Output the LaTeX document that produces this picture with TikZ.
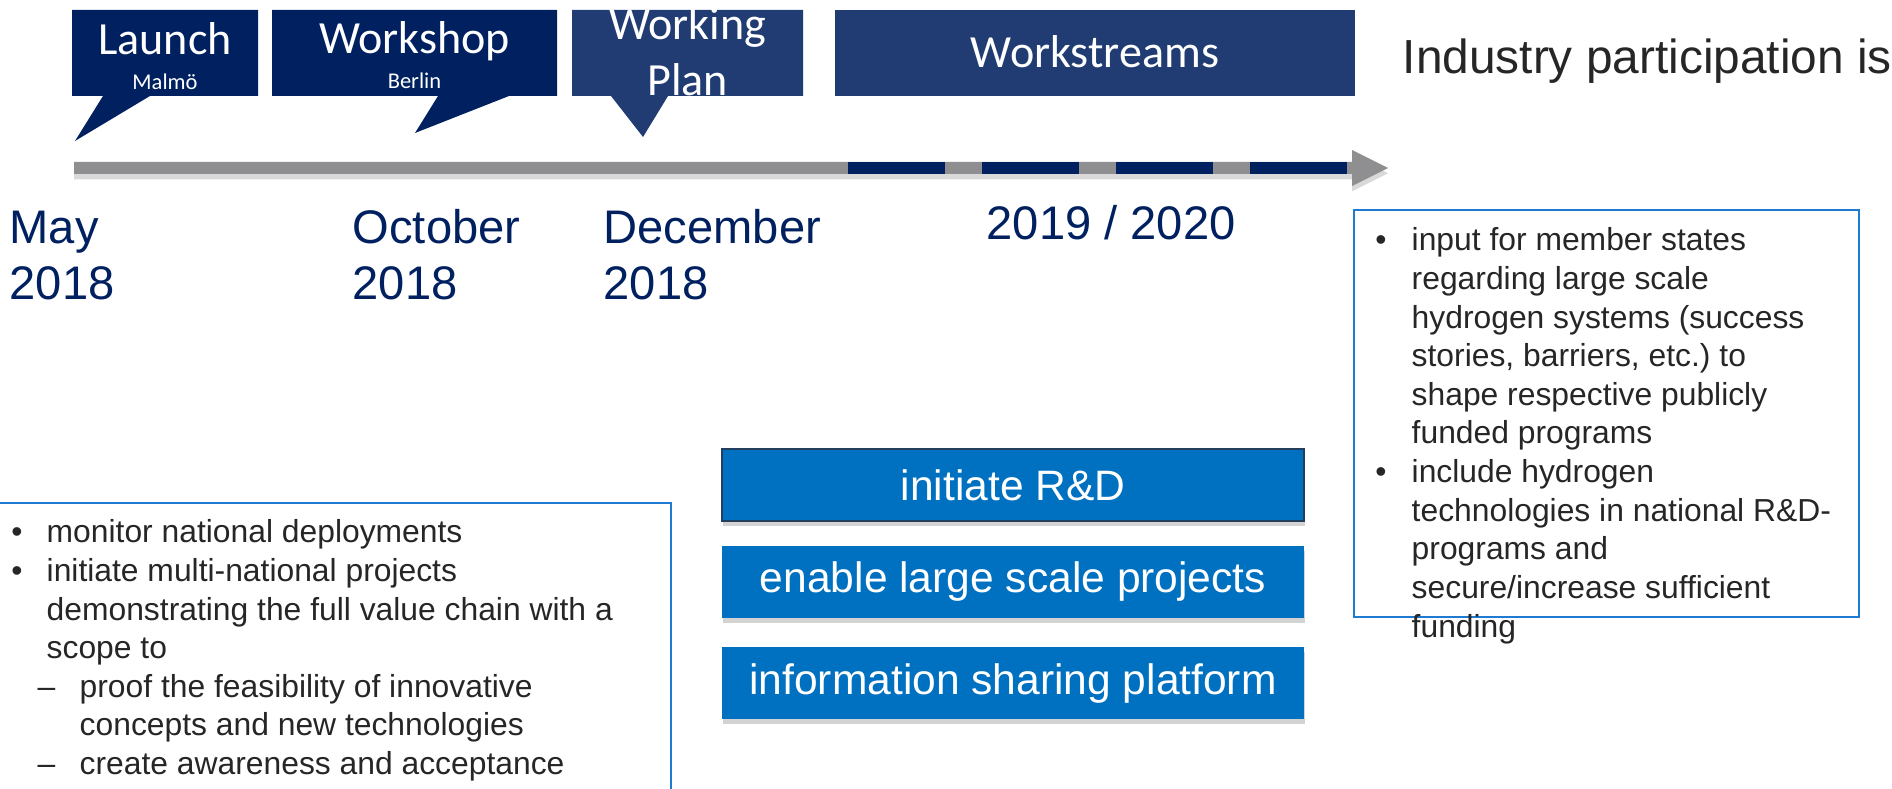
\documentclass[tikz,border=0pt]{standalone}
\usepackage{fontspec}
\setmainfont{Liberation Sans}
\newfontfamily\calloutfont{Carlito}
\usetikzlibrary{positioning}
\usetikzlibrary{shadows}
\definecolor{navyblue}{HTML}{002060}
\definecolor{planblue}{HTML}{213B73}
\definecolor{boxblue}{HTML}{0070C0}
\definecolor{framedark}{HTML}{243F5E}
\definecolor{lineblue}{HTML}{1F7BD0}
\definecolor{timegray}{HTML}{8F8E90}
\definecolor{darktext}{HTML}{262626}
\newcommand{\callout}[6]{\fill[#1] (#2,10) -- (#3,10) -- (#3,96) -- (#5,96) -- (#6) -- (#4,96) -- (#2,96) -- cycle;}
\tikzset{
	bubbletitle/.style={text=white, font=\calloutfont\fontsize{13.1}{15.7}\selectfont, anchor=base, inner sep=0},
	bubbleplace/.style={text=white, font=\calloutfont\fontsize{6.4}{7.7}\selectfont, anchor=base, inner sep=0},
	datelbl/.style={text=navyblue, font=\fontsize{13.4}{16}\selectfont, anchor=base west, inner sep=0},
	goalbox/.style={fill=boxblue, text=white, minimum width=5.82cm, minimum height=0.72cm, inner sep=0,
		font=\fontsize{12.1}{14.5}\selectfont, drop shadow={shadow xshift=0.3pt, shadow yshift=-1.4pt, opacity=.35}},
	listtxt/.style={text=darktext, font=\fontsize{9.05}{10.8}\selectfont\frenchspacing, anchor=base west, inner sep=0},
	listmark/.style={listtxt, anchor=base},
	listframe/.style={draw=lineblue, line width=0.55pt}
}

\begin{document}
\begin{tikzpicture}[x=0.01cm, y=-0.01cm]
		\useasboundingbox (0,0) rectangle (1892,789);

		% timeline
		\fill[timegray, drop shadow={shadow xshift=0pt, shadow yshift=-1.5pt, opacity=.3}]
			(74,162) -- (1352,162) -- (1352,150) -- (1388,168) -- (1352,186) -- (1352,174) -- (74,174) -- cycle;
		\foreach \x in {848,982,1116,1250}
			\fill[navyblue] (\x,162) rectangle ++(97,12);

		% milestones
		\callout{navyblue}{72}{258}{103}{150}{75,141}
		\callout{navyblue}{272}{557}{438}{509}{415,133}
		\callout{planblue}{572}{803}{611}{668}{643,137}
		\fill[planblue] (835,10) rectangle (1355,96);

		\node[bubbletitle] (launch) at (165,55) {Launch};
		\node[bubbleplace] (malmo) at (165,90) {Malmö};
		\node[bubbletitle] (workshop) at (414.5,54) {Workshop};
		\node[bubbleplace] (berlin) at (414.5,89) {Berlin};
		\node[bubbletitle] (working) at (687.5,40) {Working};
		\node[bubbletitle] (plan) at (687.5,96) {Plan};
		\node[bubbletitle] (streams) at (1095,68) {Workstreams};

		\node[anchor=base west, inner sep=0, text=darktext, font=\fontsize{13.6}{16}\selectfont] (industry) at (1402,74) {Industry participation is};

		% dates
		\foreach \mon/\x/\n in {May/9/may, October/352/oct, December/603/dec} {
			\node[datelbl] (\n) at (\x,244) {\mon};
			\node[datelbl] (\n-y) at (\x,300) {2018};
		}
		\node[datelbl] (later) at (986,240) {2019 / 2020};

		% goals
		\node[goalbox, draw=framedark, line width=0.6pt] (rnd) at (1013,485) {initiate R\&D};
		\node[goalbox, below=0.23cm of rnd] (large) {enable large scale projects};
		\node[goalbox, below=0.28cm of large] (share) {information sharing platform};

		% left list
		\draw[listframe] (0,503) -- (671,503) -- (671,789);
		\node[listmark] (lb1) at (17,543) {•};
		\node[listmark] (lb2) at (17,581.5) {•};
		\node[listmark] (ld1) at (46.5,697) {\textendash};
		\node[listmark] (ld2) at (46.5,774) {\textendash};
		\foreach \txt [count=\i] in {monitor national deployments, initiate multi-national projects,
				demonstrating the full value chain with a, scope to}
			\node[listtxt] (l\i) at (46, {543+38.5*(\i-1)}) {\txt};
		\foreach \txt [count=\i] in {proof the feasibility of innovative, concepts and new technologies,
				create awareness and acceptance}
			\node[listtxt] (s\i) at (79, {697+38.5*(\i-1)}) {\txt};

		% right list
		\draw[listframe] (1354,210) rectangle (1859,617);
		\node[listmark] (rb1) at (1381,251) {•};
		\node[listmark] (rb2) at (1381,482.6) {•};
		\foreach \txt [count=\i] in {input for member states, regarding large scale, hydrogen systems (success,
				{stories, barriers, etc.) to}, shape respective publicly, funded programs, include hydrogen,
				technologies in national R\&D-, programs and, secure/increase sufficient, funding}
			\node[listtxt] (r\i) at (1411, {251+38.6*(\i-1)}) {\txt};

\end{tikzpicture}
\end{document}
